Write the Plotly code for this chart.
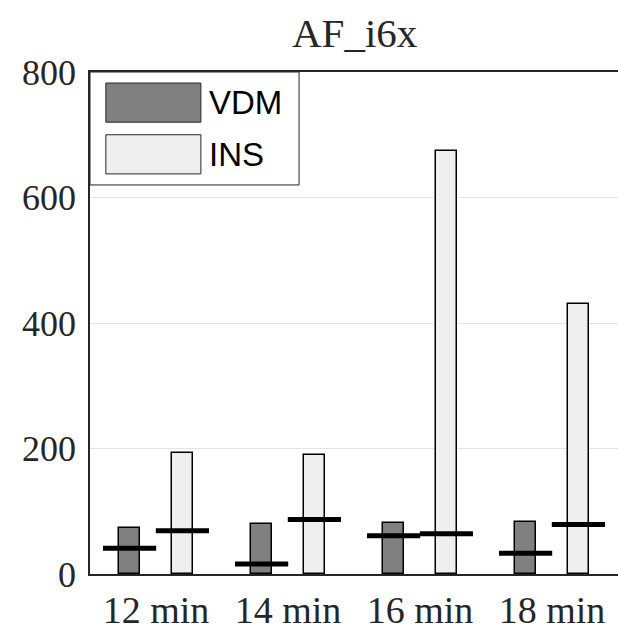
import plotly.graph_objects as go

# Data
categories = ["12 min", "14 min", "16 min", "18 min"]
vdm_values = [74, 80, 82, 83]
ins_values = [193, 189, 674, 430]
vdm_lines = [41, 16, 61, 33]
ins_lines = [69, 87, 64, 79]
series_names = ["VDM", "INS"]
y_ticks = [0, 200, 400, 600, 800]

VDM_COLOR = "#808080"
INS_COLOR = "#efefef"
AXIS_COLOR = "#262626"
SERIF = "Liberation Serif, Times New Roman, serif"
SANS = "Liberation Sans, Arial, sans-serif"

pos = list(range(1, len(categories) + 1))
shift = 0.2
bar_w = 0.165

fig = go.Figure()

for vals, col, sgn, name in [(vdm_values, VDM_COLOR, -1, series_names[0]),
                             (ins_values, INS_COLOR, 1, series_names[1])]:
    fig.add_trace(go.Bar(
        x=[p + sgn * shift for p in pos], y=vals, width=bar_w, name=name,
        marker=dict(color=col, line=dict(color="black", width=1.5)),
        showlegend=False,
    ))

for vals, sgn in [(vdm_lines, -1), (ins_lines, 1)]:
    fig.add_trace(go.Scatter(
        x=[p + sgn * shift for p in pos], y=vals, mode="markers",
        marker=dict(symbol="line-ew", size=38,
                    line=dict(color="black", width=5)),
        showlegend=False, hoverinfo="y",
    ))

# Legend drawn as a boxed panel in the top-left corner
lx0, lx1, ly0, ly1 = 0.0, 0.396, 0.775, 1.0
fig.add_shape(type="rect", xref="paper", yref="paper",
              x0=lx0, x1=lx1, y0=ly0, y1=ly1,
              line=dict(color=AXIS_COLOR, width=1), fillcolor="white", layer="above")
entries = [(series_names[0], VDM_COLOR, 0.900, 0.978),
           (series_names[1], INS_COLOR, 0.797, 0.875)]
for name, col, y0, y1 in entries:
    fig.add_shape(type="rect", xref="paper", yref="paper",
                  x0=0.030, x1=0.210, y0=y0, y1=y1,
                  line=dict(color=AXIS_COLOR, width=1), fillcolor=col, layer="above")
    fig.add_annotation(xref="paper", yref="paper", x=0.222, y=(y0 + y1) / 2,
                       text=name, showarrow=False, xanchor="left", yanchor="middle",
                       font=dict(family=SANS, size=33, color="black"))

fig.add_annotation(xref="paper", yref="paper", x=0.5, y=1.0, yanchor="bottom",
                   text="AF_i6x", showarrow=False, yshift=14,
                   font=dict(family=SERIF, size=41, color=AXIS_COLOR))

fig.update_layout(
    width=618, height=635,
    margin=dict(l=90, r=0, t=72, b=61),
    plot_bgcolor="white", paper_bgcolor="white",
    bargap=0, showlegend=False,
    xaxis=dict(range=[0.5, 4.5], tickvals=pos, ticktext=categories,
               showgrid=False, zeroline=False, showline=True, mirror=True,
               linecolor=AXIS_COLOR, linewidth=1.5, ticks="",
               ticklabelstandoff=2,
               tickfont=dict(family=SERIF, size=38, color=AXIS_COLOR)),
    yaxis=dict(range=[0, 800], tickvals=y_ticks,
               showgrid=True, gridcolor="#e3e3e3", gridwidth=1,
               zeroline=False, showline=True, linecolor=AXIS_COLOR, linewidth=1.5,
               ticks="", ticklabelstandoff=5,
               tickfont=dict(family=SERIF, size=36, color=AXIS_COLOR)),
)

fig.write_html("out.html")
